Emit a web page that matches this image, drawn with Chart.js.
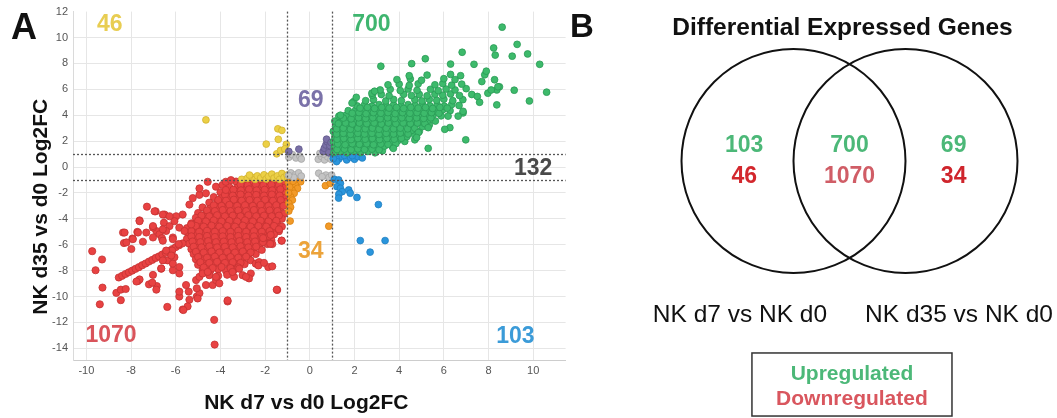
<!DOCTYPE html>
<html>
<head>
<meta charset="utf-8">
<title>NK d7 / d35 differential expression</title>
<script src="https://cdn.jsdelivr.net/npm/chart.js@4.4.1/dist/chart.umd.min.js"></script>
<style>
  body { margin: 0; background: #fff; }
  #wrap { position: relative; width: 1057px; height: 418px; }
  canvas { position: absolute; top: 0; }
  #scatter { left: 0; }
  #venn { left: 570px; }
</style>
</head>
<body>
<div id="wrap">
  <canvas id="scatter" width="570" height="418"></canvas>
  <canvas id="venn" width="487" height="418"></canvas>
</div>
<script>
// gene counts per Venn region: [d7 only, both, d35 only]
const vennSets = ['NK d7 vs NK d0', 'NK d35 vs NK d0'];
const upCounts = [103, 700, 69];
const downCounts = [46, 1070, 34];
const otherCount = 132;

const xTicks = [-10, -8, -6, -4, -2, 0, 2, 4, 6, 8, 10];
const yTicks = [-14, -12, -10, -8, -6, -4, -2, 0, 2, 4, 6, 8, 10, 12];
const foldCutoffs = [-1, 1];

// log2FC pairs [d7, d35]
const upBoth = [
  [1.08,1.12],[1.38,1.2],[1.66,1.1],[1.97,1.22],[2.28,1.12],[2.6,1.2],[2.92,1.1],[3.25,1.25],
  [1.1,1.52],[1.42,1.6],[1.75,1.5],[2.05,1.62],[2.38,1.52],[2.7,1.6],[3.02,1.5],[3.35,1.62],[3.7,1.55],
  [1.06,1.95],[1.36,2.0],[1.68,1.9],[2.0,2.02],[2.32,1.93],[2.62,2.05],[2.95,1.95],[3.28,2.02],[3.6,1.92],[3.95,2.05],[4.25,1.98],
  [1.12,2.32],[1.45,2.4],[1.78,2.3],[2.1,2.42],[2.42,2.33],[2.75,2.4],[3.05,2.3],[3.38,2.42],[3.7,2.35],[4.02,2.45],[4.35,2.35],[4.7,2.45],
  [1.05,2.75],[1.35,2.8],[1.65,2.7],[1.98,2.8],[2.3,2.72],[2.62,2.82],[2.95,2.7],[3.26,2.8],[3.58,2.72],[3.9,2.84],[4.22,2.75],[4.55,2.82],[4.9,2.75],
  [1.15,3.12],[1.48,3.2],[1.8,3.1],[2.12,3.22],[2.45,3.12],[2.78,3.2],[3.1,3.1],[3.42,3.22],[3.75,3.12],[4.08,3.24],[4.4,3.15],[4.72,3.22],[5.05,3.12],[5.35,3.25],
  [1.12,3.55],[1.42,3.6],[1.72,3.5],[2.05,3.62],[2.38,3.52],[2.7,3.6],[3.02,3.5],[3.35,3.62],[3.68,3.55],[4.0,3.64],[4.32,3.52],[4.65,3.6],[4.98,3.5],[5.3,3.62],[5.62,3.55],
  [1.3,3.92],[1.62,4.0],[1.95,3.9],[2.28,4.02],[2.6,3.92],[2.92,4.0],[3.25,3.9],[3.58,4.02],[3.9,3.95],[4.22,4.04],[4.55,3.92],[4.88,4.0],[5.2,3.9],[5.52,4.02],[5.88,3.95],
  [1.72,4.35],[2.05,4.4],[2.38,4.3],[2.7,4.42],[3.02,4.32],[3.35,4.4],[3.68,4.3],[4.0,4.42],[4.32,4.35],[4.65,4.44],[4.98,4.32],[5.3,4.4],[5.62,4.3],[5.95,4.42],[6.28,4.35],
  [2.12,4.72],[2.45,4.8],[2.78,4.7],[3.1,4.82],[3.42,4.72],[3.75,4.8],[4.08,4.7],[4.4,4.82],[4.72,4.75],[5.05,4.84],[5.38,4.72],[5.7,4.8],[6.02,4.7],[6.35,4.82],[6.68,4.75],
  [2.5,5.12],[2.85,5.2],[3.4,5.1],[3.75,5.22],[4.1,5.12],[4.7,5.2],[5.02,5.1],[5.35,5.22],[5.68,5.15],[6.0,5.24],[6.4,5.12],[6.85,5.2],
  [2.8,5.55],[3.2,5.6],[3.55,5.5],[4.2,5.62],[4.55,5.52],[4.9,5.6],[5.25,5.5],[5.6,5.62],[5.95,5.55],[6.3,5.64],[6.7,5.52],[7.25,5.6],
  [3.15,5.95],[3.6,6.0],[4.05,5.9],[4.4,6.02],[4.8,5.92],[5.4,6.0],[5.75,5.9],[6.1,6.02],[6.5,5.95],[7.0,6.05],
  [3.5,6.35],[4.0,6.4],[4.45,6.3],[4.85,6.42],[5.6,6.35],[5.95,6.44],[6.35,6.32],[6.8,6.4],
  [3.9,6.75],[4.5,6.8],[5.0,6.7],[6.0,6.82],[6.5,6.75],
  [4.45,7.05],[5.25,7.1],[6.3,7.15],[6.75,7.05],
  // between the rows of the dense core
  [1.22,1.35],[1.55,1.38],[1.85,1.33],[2.15,1.4],[2.45,1.35],[2.78,1.38],[3.1,1.33],
  [1.25,1.78],[1.58,1.72],[1.9,1.8],[2.22,1.75],[2.55,1.8],[2.85,1.72],[3.18,1.78],[3.5,1.75],[3.85,1.8],
  [1.22,2.15],[1.52,2.2],[1.85,2.12],[2.15,2.2],[2.48,2.15],[2.8,2.2],[3.12,2.12],[3.45,2.2],[3.78,2.15],[4.1,2.22],
  [1.2,2.55],[1.5,2.6],[1.82,2.52],[2.15,2.6],[2.45,2.55],[2.78,2.6],[3.1,2.52],[3.42,2.6],[3.75,2.55],[4.05,2.62],[4.4,2.55],
  [1.2,2.95],[1.5,3.0],[1.82,2.92],[2.15,3.0],[2.48,2.95],[2.8,3.0],[3.1,2.92],[3.42,3.0],[3.75,2.95],[4.05,3.0],[4.38,2.95],[4.7,3.0],
  [1.28,3.35],[1.6,3.4],[1.9,3.32],[2.22,3.4],[2.55,3.35],[2.88,3.4],[3.2,3.32],[3.52,3.4],[3.85,3.35],[4.18,3.4],[4.5,3.35],[4.82,3.4],[5.15,3.35],
  [1.5,3.78],[1.85,3.72],[2.18,3.8],[2.5,3.75],[2.82,3.8],[3.15,3.72],[3.48,3.8],[3.8,3.75],[4.12,3.8],[4.45,3.75],[4.78,3.8],[5.1,3.75],[5.42,3.8],
  [1.9,4.15],[2.2,4.2],[2.52,4.12],[2.85,4.2],[3.18,4.15],[3.5,4.2],[3.82,4.12],[4.15,4.2],[4.48,4.15],[4.8,4.2],[5.12,4.15],[5.45,4.2],[5.78,4.15],
  [2.25,4.55],[2.58,4.6],[2.9,4.52],[3.22,4.6],[3.55,4.55],[3.88,4.6],[4.2,4.52],[4.52,4.6],[4.85,4.55],[5.18,4.6],[5.5,4.52],[5.82,4.6],[6.15,4.55],
  // outlying genes
  [8.61,10.8],[9.28,9.47],[8.23,9.19],[8.3,8.64],[9.06,8.56],[9.75,8.73],[10.29,7.93],[10.6,5.78],[9.83,5.1],[9.15,5.93],
  [6.82,8.86],[5.17,8.36],[4.56,7.98],[3.18,7.78],[6.3,7.95],[7.35,7.93],[7.83,7.12],[7.9,7.4],[8.27,6.74],[8.49,6.19],
  [8.37,5.95],[8.37,4.8],[6.98,2.1],[5.3,1.44],[3.74,1.44],[1.96,5.05],[2.08,5.38],[1.37,4.0],[1.89,4.94],
  [6.86,4.18],[6.19,3.93],[6.27,3.04],[7.97,5.7],[8.12,5.95],[8.42,6.2],[6.04,2.91],[7.5,5.45],[7.7,6.6],[7.6,5.0],
  [6.64,3.93],[6.86,4.3],[4.7,2.1],[4.86,2.66],[5.3,3.04],[4.78,2.28],[2.78,5.7],[2.9,5.85]
];

const downBoth = [
  [-3.3,-1.12],[-2.95,-1.2],[-2.6,-1.1],[-2.25,-1.22],[-1.9,-1.12],[-1.55,-1.2],[-1.2,-1.1],
  [-3.6,-1.55],[-3.25,-1.6],[-2.9,-1.5],[-2.55,-1.62],[-2.2,-1.52],[-1.85,-1.6],[-1.5,-1.5],[-1.15,-1.62],
  [-4.0,-1.95],[-3.65,-2.0],[-3.3,-1.9],[-2.95,-2.02],[-2.6,-1.92],[-2.25,-2.0],[-1.9,-1.9],[-1.55,-2.02],[-1.2,-1.95],
  [-4.3,-2.32],[-3.95,-2.4],[-3.6,-2.3],[-3.25,-2.42],[-2.9,-2.32],[-2.55,-2.4],[-2.2,-2.3],[-1.85,-2.42],[-1.5,-2.32],[-1.15,-2.4],
  [-4.5,-2.75],[-4.15,-2.8],[-3.8,-2.7],[-3.45,-2.82],[-3.1,-2.72],[-2.75,-2.8],[-2.4,-2.7],[-2.05,-2.82],[-1.7,-2.72],[-1.35,-2.8],[-1.08,-2.7],
  [-4.8,-3.12],[-4.45,-3.2],[-4.1,-3.1],[-3.75,-3.22],[-3.4,-3.12],[-3.05,-3.2],[-2.7,-3.1],[-2.35,-3.22],[-2.0,-3.12],[-1.65,-3.2],[-1.3,-3.1],
  [-5.0,-3.55],[-4.65,-3.6],[-4.3,-3.5],[-3.95,-3.62],[-3.6,-3.52],[-3.25,-3.6],[-2.9,-3.5],[-2.55,-3.62],[-2.2,-3.52],[-1.85,-3.6],[-1.5,-3.5],[-1.15,-3.62],
  [-5.1,-3.92],[-4.75,-4.0],[-4.4,-3.9],[-4.05,-4.02],[-3.7,-3.92],[-3.35,-4.0],[-3.0,-3.9],[-2.65,-4.02],[-2.3,-3.92],[-1.95,-4.0],[-1.6,-3.9],[-1.25,-4.0],
  [-5.3,-4.35],[-4.95,-4.4],[-4.6,-4.3],[-4.25,-4.42],[-3.9,-4.32],[-3.55,-4.4],[-3.2,-4.3],[-2.85,-4.42],[-2.5,-4.32],[-2.15,-4.4],[-1.8,-4.3],[-1.45,-4.42],[-1.25,-4.6],
  [-5.5,-4.72],[-5.15,-4.8],[-4.8,-4.7],[-4.45,-4.82],[-4.1,-4.72],[-3.75,-4.8],[-3.4,-4.7],[-3.05,-4.82],[-2.7,-4.72],[-2.35,-4.8],[-2.0,-4.7],[-1.65,-4.82],[-1.38,-4.95],
  [-5.45,-5.12],[-5.1,-5.2],[-4.75,-5.1],[-4.4,-5.22],[-4.05,-5.12],[-3.7,-5.2],[-3.35,-5.1],[-3.0,-5.22],[-2.65,-5.12],[-2.3,-5.2],[-1.95,-5.1],[-1.6,-5.2],
  [-5.5,-5.55],[-5.15,-5.6],[-4.8,-5.5],[-4.45,-5.62],[-4.1,-5.52],[-3.75,-5.6],[-3.4,-5.5],[-3.05,-5.62],[-2.7,-5.52],[-2.35,-5.6],[-2.0,-5.5],[-1.72,-5.65],
  [-5.4,-5.92],[-5.05,-6.0],[-4.7,-5.9],[-4.35,-6.02],[-4.0,-5.92],[-3.65,-6.0],[-3.3,-5.9],[-2.95,-6.02],[-2.6,-5.92],[-2.25,-6.0],[-1.9,-5.95],
  [-5.3,-6.35],[-4.95,-6.4],[-4.6,-6.3],[-4.25,-6.42],[-3.9,-6.32],[-3.55,-6.4],[-3.2,-6.3],[-2.85,-6.42],[-2.5,-6.32],[-2.15,-6.4],
  [-5.2,-6.72],[-4.85,-6.8],[-4.5,-6.7],[-4.15,-6.82],[-3.8,-6.72],[-3.45,-6.8],[-3.1,-6.7],[-2.75,-6.8],[-2.42,-6.72],
  [-5.1,-7.12],[-4.75,-7.2],[-4.4,-7.1],[-4.05,-7.22],[-3.7,-7.12],[-3.35,-7.2],[-3.0,-7.1],[-2.65,-7.2],
  [-5.0,-7.55],[-4.65,-7.6],[-4.3,-7.5],[-3.95,-7.62],[-3.6,-7.52],[-3.25,-7.6],[-2.92,-7.5],
  [-4.8,-7.95],[-4.45,-8.0],[-4.1,-7.9],[-3.75,-8.02],[-3.4,-7.95],
  [-4.5,-8.35],[-4.1,-8.4],[-3.7,-8.32],
  // between the rows of the dense core
  [-3.1,-1.35],[-2.78,-1.4],[-2.42,-1.33],[-2.08,-1.4],[-1.72,-1.35],[-1.38,-1.4],
  [-3.42,-1.75],[-3.08,-1.8],[-2.72,-1.72],[-2.38,-1.8],[-2.02,-1.75],[-1.68,-1.8],[-1.32,-1.72],
  [-3.8,-2.15],[-3.45,-2.2],[-3.1,-2.12],[-2.75,-2.2],[-2.4,-2.15],[-2.05,-2.2],[-1.7,-2.12],[-1.35,-2.2],
  [-4.1,-2.55],[-3.75,-2.6],[-3.4,-2.52],[-3.05,-2.6],[-2.7,-2.55],[-2.35,-2.6],[-2.0,-2.52],[-1.65,-2.6],[-1.3,-2.55],
  [-4.3,-2.95],[-3.95,-3.0],[-3.6,-2.92],[-3.25,-3.0],[-2.9,-2.95],[-2.55,-3.0],[-2.2,-2.92],[-1.85,-3.0],[-1.5,-2.95],[-1.18,-3.0],
  [-4.6,-3.35],[-4.25,-3.4],[-3.9,-3.32],[-3.55,-3.4],[-3.2,-3.35],[-2.85,-3.4],[-2.5,-3.32],[-2.15,-3.4],[-1.8,-3.35],[-1.45,-3.4],
  [-4.85,-3.75],[-4.5,-3.8],[-4.15,-3.72],[-3.8,-3.8],[-3.45,-3.75],[-3.1,-3.8],[-2.75,-3.72],[-2.4,-3.8],[-2.05,-3.75],[-1.7,-3.8],[-1.38,-3.75],
  [-5.0,-4.15],[-4.65,-4.2],[-4.3,-4.12],[-3.95,-4.2],[-3.6,-4.15],[-3.25,-4.2],[-2.9,-4.12],[-2.55,-4.2],[-2.2,-4.15],[-1.85,-4.2],[-1.5,-4.15],
  [-5.1,-4.55],[-4.75,-4.6],[-4.4,-4.52],[-4.05,-4.6],[-3.7,-4.55],[-3.35,-4.6],[-3.0,-4.52],[-2.65,-4.6],[-2.3,-4.55],[-1.95,-4.6],[-1.6,-4.55],
  [-5.3,-4.95],[-4.95,-5.0],[-4.6,-4.92],[-4.25,-5.0],[-3.9,-4.95],[-3.55,-5.0],[-3.2,-4.92],[-2.85,-5.0],[-2.5,-4.95],[-2.15,-5.0],[-1.8,-4.95],
  [-5.3,-5.35],[-4.95,-5.4],[-4.6,-5.32],[-4.25,-5.4],[-3.9,-5.35],[-3.55,-5.4],[-3.2,-5.32],[-2.85,-5.4],[-2.5,-5.35],[-2.15,-5.4],[-1.82,-5.35],
  [-5.25,-5.75],[-4.9,-5.8],[-4.55,-5.72],[-4.2,-5.8],[-3.85,-5.75],[-3.5,-5.8],[-3.15,-5.72],[-2.8,-5.8],[-2.45,-5.75],[-2.1,-5.8],
  [-5.2,-6.15],[-4.85,-6.2],[-4.5,-6.12],[-4.15,-6.2],[-3.8,-6.15],[-3.45,-6.2],[-3.1,-6.12],[-2.75,-6.2],[-2.4,-6.15],
  [-5.1,-6.55],[-4.75,-6.6],[-4.4,-6.52],[-4.05,-6.6],[-3.7,-6.55],[-3.35,-6.6],[-3.0,-6.52],[-2.65,-6.6],
  [-5.0,-6.95],[-4.6,-7.0],[-4.25,-6.92],[-3.9,-7.0],[-3.55,-6.95],[-3.2,-7.0],[-2.85,-6.92],
  [-4.9,-7.35],[-4.5,-7.4],[-4.15,-7.32],[-3.8,-7.4],[-3.45,-7.35],[-3.1,-7.4],
  [-4.75,-7.75],[-4.35,-7.8],[-3.95,-7.72],[-3.55,-7.8],[-3.2,-7.75],
  // streak along the diagonal
  [-8.55,-8.53],[-8.4,-8.4],[-8.25,-8.26],[-8.1,-8.13],[-7.95,-8.0],[-7.8,-7.86],[-7.65,-7.73],[-7.5,-7.58],[-7.35,-7.45],[-7.2,-7.3],
  [-7.05,-7.17],[-6.9,-7.02],[-6.75,-6.9],[-6.6,-6.75],[-6.45,-6.62],[-6.3,-6.47],[-6.15,-6.33],[-6.0,-6.18],[-5.85,-6.04],[-5.7,-5.9],
  // scattered genes
  [-9.74,-6.5],[-9.59,-7.97],[-9.3,-7.14],[-9.28,-9.31],[-9.4,-10.6],[-8.46,-10.28],[-8.66,-9.72],[-8.46,-9.47],[-8.24,-9.42],
  [-8.36,-5.06],[-8.32,-5.87],[-7.94,-5.52],[-7.99,-6.33],[-7.72,-5.01],[-7.62,-4.12],[-7.29,-3.06],[-7.47,-5.77],
  [-6.9,-3.42],[-6.5,-3.67],[-6.53,-4.3],[-6.87,-4.94],[-7.02,-4.68],[-6.73,-5.19],[-6.62,-5.49],
  [-6.16,-6.45],[-6.36,-7.21],[-6.06,-6.96],[-6.65,-7.85],[-6.13,-7.97],[-5.84,-8.22],[-6.85,-9.19],[-7.2,-9.06],[-7.05,-8.93],[-7.69,-8.8],[-7.62,-8.68],
  [-6.38,-10.8],[-5.84,-10.0],[-5.42,-9.62],[-5.39,-10.25],[-5.47,-10.76],[-5.06,-10.0],[-4.94,-9.74],[-5.69,-11.0],
  [-5.06,-9.36],[-4.65,-9.11],[-4.35,-9.11],[-4.2,-8.73],[-3.68,-10.38],[-3.39,-8.48],[-3.01,-8.35],[-2.64,-8.22],[-2.72,-8.6],
  [-2.42,-7.46],[-2.27,-7.34],[-1.86,-7.72],[-1.68,-7.67],[-1.46,-9.49],[-1.26,-5.69],[-1.68,-5.95],[-1.38,-4.81],[-1.75,-5.24],[-2.09,-5.49],
  [-5.24,-2.4],[-4.94,-2.15],[-4.65,-2.03],[-5.39,-2.9],[-5.69,-3.67],[-5.98,-3.8],[-5.84,-4.68],[-5.61,-4.94],[-5.31,-4.43],[-6.13,-5.44],
  [-5.87,-5.95],[-6.28,-4.56],[-6.43,-4.94],[-6.06,-4.18],
  [-4.94,-1.65],[-4.57,-1.14],[-4.2,-1.52],[-3.91,-1.39],[-3.76,-1.77],[-3.76,-1.14],[-3.53,-1.01],
  [-6.95,-3.42],[-6.58,-3.67],[-6.28,-3.8],[-7.62,-4.18],[-7.02,-4.56],[-6.58,-4.81],[-8.29,-5.06],[-7.69,-5.06],[-7.32,-5.06],
  [-7.92,-5.57],[-7.02,-5.44],[-8.21,-5.82],[-6.58,-5.69],[-6.13,-5.57],[-6.43,-6.45],[-6.2,-6.83],[-6.58,-7.21],[-6.13,-7.46],[-5.84,-7.72],
  [-4.28,-11.8],[-4.26,-13.71],[-3.68,-10.3],[-1.48,-9.47],[-2.3,-7.6],[-2.05,-7.4],[-2.86,-8.48],[-1.77,-5.93],[-1.26,-5.68],
  [-7.76,-8.84],[-6.87,-9.47],[-7.02,-8.33],[-6.65,-7.83],[-5.66,-11.04],[-5.02,-10.15],
  [-5.84,-9.62],[-5.54,-9.11],[-5.09,-8.73],[-4.94,-8.48],[-4.05,-8.98],[-4.8,-8.22],[-4.57,-8.1],[-4.2,-8.48],[-3.46,-8.1],[-3.16,-7.85]
];

const downD7Only = [
  [-4.65,3.64],[-1.43,2.95],[-1.25,2.83],[-1.41,2.14],[-1.95,1.77],[-1.05,1.75],[-1.48,1.02],[-1.31,1.28],[-1.12,1.4],
  [-3.05,-0.95],[-2.8,-0.88],[-2.6,-0.78],[-2.45,-0.95],[-2.35,-0.68],[-2.2,-0.85],[-2.05,-0.6],[-1.95,-0.92],[-1.85,-0.72],
  [-1.7,-0.55],[-1.6,-0.85],[-1.45,-0.68],[-1.35,-0.95],[-1.25,-0.5],[-1.15,-0.8],[-1.02,-0.62],[-0.98,-0.92],[-2.7,-0.62]
];

const upD7Only = [
  [1.1,0.85],[1.3,0.62],[1.45,0.82],[1.65,0.55],[1.82,0.75],[2.0,0.6],[2.15,0.8],[1.2,0.42],[1.05,0.65],[1.55,0.9],[1.9,0.88],[2.35,0.7],
  [1.1,-0.95],[1.29,-1.0],[1.37,-1.26],[1.22,-1.52],[1.37,-1.64],[1.45,-1.9],[1.3,-2.1],[1.74,-1.77],[1.81,-2.02],[2.11,-2.35],
  [1.29,-2.4],[3.07,-2.9],[2.26,-5.68],[2.7,-6.57],[3.37,-5.68]
];

const upD35Only = [
  [-0.94,1.2],[-0.49,1.38],[0.6,1.2],[0.65,1.45],[0.72,1.7],[0.78,1.95],[0.75,2.15],[0.88,1.35],[0.9,1.65],[0.85,1.1],[0.95,1.9]
];

const downD35Only = [
  [-0.49,-1.05],[-0.41,-1.14],[-0.64,-1.4],[-0.55,-1.65],[-0.79,-1.8],[-0.7,-2.03],[-0.86,-2.3],[-0.78,-2.55],[-0.94,-2.79],
  [-0.86,-3.1],[-0.94,-3.4],[-0.96,-1.2],[-0.75,-1.1],[-0.88,-4.17],[0.85,-4.57],[0.7,-1.44],[0.92,-1.26],[-0.9,-1.55],[-0.95,-2.0]
];

const unchanged = [
  [-0.94,0.75],[-0.78,0.95],[-0.62,0.7],[-0.45,0.85],[-0.38,0.62],[-0.85,-0.45],[-0.65,-0.6],[-0.5,-0.45],[-0.38,-0.7],
  [-0.72,-0.8],[-0.95,-0.65],[0.38,0.6],[0.52,0.82],[0.66,0.55],[0.8,0.78],[0.95,0.6],[0.62,1.0],[0.45,1.05],
  [0.4,-0.48],[0.72,-0.62],[0.86,-0.8],[0.98,-0.62],[0.55,-0.75]
];

const FONT = "'Liberation Sans', Arial, sans-serif";
Chart.defaults.font.family = FONT;

const toXY = arr => arr.map(([x, y]) => ({ x, y }));
const dots = (label, data, fill, edge, r) => ({
  label, data: toXY(data),
  backgroundColor: fill, borderColor: edge, borderWidth: 0.8,
  pointRadius: r || 3.4, pointHoverRadius: r || 3.4
});

// count labels placed in data space of the scatter
const scatterNotes = [
  { text: downCounts[0], x: -8.95, y: 11.0, color: '#e8cd52' },
  { text: upCounts[1], x: 2.76, y: 11.0, color: '#3fb56f' },
  { text: upCounts[2], x: 0.04, y: 5.1, color: '#7b72a9' },
  { text: otherCount, x: 10.0, y: -0.15, color: '#4a4a4a' },
  { text: downCounts[2], x: 0.04, y: -6.5, color: '#eca33a' },
  { text: downCounts[1], x: -8.9, y: -13.05, color: '#d9545b' },
  { text: upCounts[0], x: 9.2, y: -13.1, color: '#3b9bd8' }
];

const scatterDecor = {
  id: 'scatterDecor',
  afterDatasetsDraw(chart) {
    const { ctx, chartArea: a, scales: { x, y } } = chart;
    ctx.save();
    // fold-change cutoffs
    ctx.setLineDash([2, 2]);
    ctx.strokeStyle = '#555';
    ctx.lineWidth = 1.3;
    foldCutoffs.forEach(v => {
      const px = Math.round(x.getPixelForValue(v)) + 0.5;
      const py = Math.round(y.getPixelForValue(v)) + 0.5;
      ctx.beginPath(); ctx.moveTo(px, a.top); ctx.lineTo(px, a.bottom); ctx.stroke();
      ctx.beginPath(); ctx.moveTo(a.left, py); ctx.lineTo(a.right, py); ctx.stroke();
    });
    ctx.setLineDash([]);

    ctx.font = 'bold 23px ' + FONT;
    ctx.textAlign = 'center';
    ctx.textBaseline = 'middle';
    scatterNotes.forEach(n => {
      ctx.fillStyle = n.color;
      ctx.fillText(String(n.text), x.getPixelForValue(n.x), y.getPixelForValue(n.y));
    });

    // axis titles and panel letter
    ctx.fillStyle = '#111';
    ctx.font = 'bold 21px ' + FONT;
    ctx.textBaseline = 'alphabetic';
    ctx.fillText('NK d7 vs d0 Log2FC', (a.left + a.right) / 2 - 13, a.bottom + 49);
    ctx.save();
    ctx.translate(a.left - 32, (a.top + a.bottom) / 2 + 21);
    ctx.rotate(-Math.PI / 2);
    ctx.textBaseline = 'middle';
    ctx.fillText('NK d35 vs d0 Log2FC', 0, 0);
    ctx.restore();
    ctx.font = 'bold 36px ' + FONT;
    ctx.textAlign = 'left';
    ctx.fillText('A', 11, 39);
    ctx.restore();
  }
};

new Chart(document.getElementById('scatter'), {
  type: 'scatter',
  data: {
    datasets: [
      dots('Up in both', upBoth, '#3dba6b', '#2a9a55'),
      dots('Up d7 only', upD7Only, '#2a95dc', '#1f7fc0'),
      dots('Up d35 only', upD35Only, '#7a70a6', '#625a8c'),
      dots('Other', unchanged, '#c4c4c4', '#a6a6a6'),
      dots('Down d35 only', downD35Only, '#f29a28', '#d9820f'),
      dots('Down d7 only', downD7Only, '#ecd046', '#d2b230'),
      dots('Down in both', downBoth, '#e84242', '#c53232', 3.6)
    ]
  },
  options: {
    responsive: false,
    animation: false,
    devicePixelRatio: 1,
    events: [],
    layout: { padding: { top: 7, right: 2, left: 0, bottom: 0 } },
    plugins: { legend: { display: false }, tooltip: { enabled: false } },
    scales: {
      x: {
        type: 'linear', min: -10.6, max: 11.45,
        afterBuildTicks: s => { s.ticks = xTicks.map(value => ({ value })); },
        afterFit: s => { s.height = 58; },
        grid: { color: '#e6e6e6', drawTicks: false },
        border: { color: '#cdcdcd' },
        ticks: { padding: 4, color: '#555', font: { size: 11 } }
      },
      y: {
        type: 'linear', min: -14.9, max: 12,
        afterBuildTicks: s => { s.ticks = yTicks.map(value => ({ value })); },
        afterFit: s => { s.width = 73; },
        grid: { color: c => (c.tick && c.tick.value === 12 ? 'rgba(0,0,0,0)' : '#e6e6e6'), drawTicks: false },
        border: { color: '#dadada' },
        ticks: { padding: 5, color: '#555', font: { size: 11 } }
      }
    }
  },
  plugins: [scatterDecor]
});

// ---- Venn diagram: one unit = circle radius ----
const vennCentres = [-0.5, 0.5];
const regionX = [-0.94, 0, 0.93];

const vennDecor = {
  id: 'vennDecor',
  afterDatasetsDraw(chart) {
    const { ctx, scales: { x, y } } = chart;
    const px = v => x.getPixelForValue(v), py = v => y.getPixelForValue(v);
    ctx.save();
    ctx.textBaseline = 'alphabetic';

    ctx.fillStyle = '#111';
    ctx.font = 'bold 33px ' + FONT;
    ctx.textAlign = 'left';
    ctx.fillText('B', px(-2.4955), py(1.107));

    ctx.textAlign = 'center';
    ctx.font = 'bold 24.5px ' + FONT;
    ctx.fillText('Differential Expressed Genes', px(-0.0625), py(1.125));

    ctx.font = 'bold 23px ' + FONT;
    const downColours = ['#d3272d', '#d05d66', '#cf252c'];
    regionX.forEach((rx, i) => {
      ctx.fillStyle = '#4cb878';
      ctx.fillText(String(upCounts[i]), px(rx), py(0.08));
      ctx.fillStyle = downColours[i];
      ctx.fillText(String(downCounts[i]), px(rx), py(-0.196));
    });

    ctx.fillStyle = '#111';
    ctx.font = '24.5px ' + FONT;
    vennSets.forEach((name, i) => {
      ctx.fillText(name, px(vennCentres[i] * 1.956), py(-1.4375));
    });

    // key box
    const l = px(-0.871), r = px(0.915), t = py(-1.714), b = py(-2.277);
    ctx.strokeStyle = '#333';
    ctx.lineWidth = 1.5;
    ctx.strokeRect(l, t, r - l, b - t);
    ctx.font = 'bold 21px ' + FONT;
    ctx.fillStyle = '#4cb878';
    ctx.fillText('Upregulated', px(0.022), py(-1.955));
    ctx.fillStyle = '#d9565e';
    ctx.fillText('Downregulated', px(0.022), py(-2.179));
    ctx.restore();
  }
};

new Chart(document.getElementById('venn'), {
  type: 'scatter',
  data: {
    datasets: [{
      label: 'sets',
      data: vennCentres.map(c => ({ x: c, y: 0 })),
      backgroundColor: 'rgba(0,0,0,0)',
      borderColor: '#111',
      borderWidth: 2,
      pointRadius: c => c.chart.scales.x.getPixelForValue(1) - c.chart.scales.x.getPixelForValue(0),
      clip: false
    }]
  },
  options: {
    responsive: false,
    animation: false,
    devicePixelRatio: 1,
    events: [],
    layout: { padding: 0 },
    plugins: { legend: { display: false }, tooltip: { enabled: false } },
    scales: {
      x: { type: 'linear', display: false, min: -2.4955, max: 1.8527 },
      y: { type: 'linear', display: false, min: -2.2946, max: 1.4375 }
    }
  },
  plugins: [vennDecor]
});
</script>
</body>
</html>
